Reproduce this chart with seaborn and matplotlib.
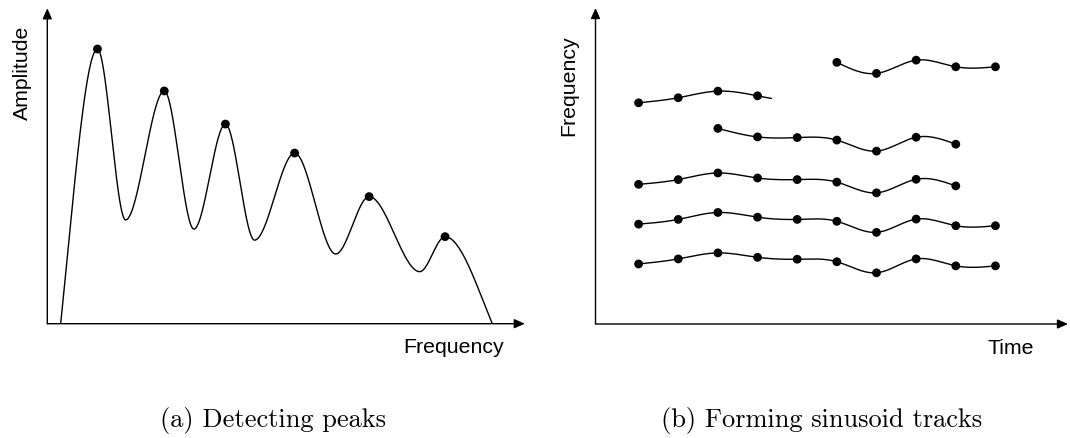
import numpy as np
import matplotlib
matplotlib.use("Agg")
import matplotlib.pyplot as plt
import seaborn as sns

# ---- (a) spectrum: the curve passes through alternating peaks and troughs ----
spec_freq = [0.28, 1.05, 1.64, 2.45, 3.07, 3.73, 4.34, 5.18, 6.04, 6.74, 7.80, 8.33, 9.32]
spec_amp = [0.00, 8.71, 3.29, 7.38, 3.00, 6.33, 2.65, 5.41, 2.21, 4.03, 1.65, 2.76, 0.00]
peak_idx = [1, 3, 5, 7, 9, 11]

# ---- (b) sinusoid tracks: frame index -> frequency ----
track_a_t = [1, 2, 3, 4, 5, 6, 7, 8, 9, 10]
track_a_f = [1.90, 2.06, 2.25, 2.11, 2.05, 1.97, 1.62, 2.06, 1.84, 1.84]
track_b_t = [1, 2, 3, 4, 5, 6, 7, 8, 9, 10]
track_b_f = [3.16, 3.31, 3.53, 3.38, 3.31, 3.25, 2.90, 3.32, 3.11, 3.11]
track_c_t = [1, 2, 3, 4, 5, 6, 7, 8, 9]
track_c_f = [4.42, 4.57, 4.78, 4.62, 4.57, 4.49, 4.15, 4.58, 4.37]
track_d_t = [3, 4, 5, 6, 7, 8, 9]
track_d_f = [6.19, 5.92, 5.90, 5.82, 5.47, 5.91, 5.69]
track_e_t = [1, 2, 3, 4]
track_e_f = [7.00, 7.16, 7.37, 7.22]
track_e_tail = 4.35          # unmatched track fades out after its last frame
track_f_t = [6, 7, 8, 9, 10]
track_f_f = [8.28, 7.93, 8.35, 8.14, 8.14]

W, H, DPI = 1070, 439, 100


def hermite_curve(xk, yk, end_slope=1.3, n=60):
    """Smooth curve through extrema: flat tangents at every knot
    except where the curve meets the axis."""
    xs_all, ys_all = [], []
    last = len(xk) - 2
    for i in range(len(xk) - 1):
        x0, x1, y0, y1 = xk[i], xk[i + 1], yk[i], yk[i + 1]
        m0 = end_slope * (y1 - y0) if i == 0 else 0.0
        m1 = end_slope * (y1 - y0) if i == last else 0.0
        u = np.linspace(0, 1, n)
        h00 = 2 * u**3 - 3 * u**2 + 1
        h10 = u**3 - 2 * u**2 + u
        h01 = -2 * u**3 + 3 * u**2
        h11 = u**3 - u**2
        xs_all.append(x0 + (x1 - x0) * u)
        ys_all.append(h00 * y0 + h10 * m0 + h01 * y1 + h11 * m1)
    return np.concatenate(xs_all), np.concatenate(ys_all)


def natural_spline(x, y, xs):
    x = np.asarray(x, float)
    y = np.asarray(y, float)
    n = len(x)
    h = np.diff(x)
    A = np.zeros((n, n))
    r = np.zeros(n)
    A[0, 0] = A[-1, -1] = 1.0
    for i in range(1, n - 1):
        A[i, i - 1] = h[i - 1]
        A[i, i] = 2 * (h[i - 1] + h[i])
        A[i, i + 1] = h[i]
        r[i] = 6 * ((y[i + 1] - y[i]) / h[i] - (y[i] - y[i - 1]) / h[i - 1])
    M = np.linalg.solve(A, r)
    idx = np.clip(np.searchsorted(x, xs) - 1, 0, n - 2)
    x0, x1 = x[idx], x[idx + 1]
    hh = x1 - x0
    a = (x1 - xs) / hh
    b = (xs - x0) / hh
    return a * y[idx] + b * y[idx + 1] + ((a**3 - a) * M[idx] + (b**3 - b) * M[idx + 1]) * hh**2 / 6


def draw_axes_arrows(ax):
    style = "-|>,head_length=0.45,head_width=0.2"
    kw = dict(arrowstyle=style, lw=1.0, color="black", mutation_scale=14,
              shrinkA=0, shrinkB=0)
    ax.annotate("", xy=(1, 0), xytext=(0, 0), xycoords="axes fraction",
                textcoords="axes fraction", arrowprops=kw)
    ax.annotate("", xy=(0, 1), xytext=(0, 0), xycoords="axes fraction",
                textcoords="axes fraction", arrowprops=kw)


sns.set_style("white")
plt.rcParams["font.family"] = ["Liberation Sans", "DejaVu Sans"]

fig = plt.figure(figsize=(W / DPI, H / DPI), dpi=DPI)


def px_axes(x0, y0, x1, y1):
    # x0,y0 = origin (pixels from top-left); x1 = x-arrow tip; y1 = y-arrow tip
    return fig.add_axes([x0 / W, (H - y0) / H, (x1 - x0) / W, (y0 - y1) / H])


# ---------------- panel (a) ----------------
ax1 = px_axes(47.3, 324.7, 524.8, 9.3)
ax1.set_xlim(0, 10)
ax1.set_ylim(0, 10)
ax1.set_axis_off()
draw_axes_arrows(ax1)

cx, cy = hermite_curve(spec_freq, spec_amp)
sns.lineplot(x=cx, y=cy, ax=ax1, color="black", lw=1.0, estimator=None, sort=False)
sns.scatterplot(x=[spec_freq[i] for i in peak_idx], y=[spec_amp[i] for i in peak_idx],
                ax=ax1, s=40, color="black", edgecolor="none", zorder=3)

# ---------------- panel (b) ----------------
ax2 = px_axes(595.5, 325.0, 1068.0, 9.0)
ax2.set_xlim(-0.087, 11.83)
ax2.set_ylim(0, 10)
ax2.set_axis_off()
draw_axes_arrows(ax2)

tracks = [
    (track_a_t, track_a_f, None),
    (track_b_t, track_b_f, None),
    (track_c_t, track_c_f, None),
    (track_d_t, track_d_f, None),
    (track_e_t, track_e_f, track_e_tail),
    (track_f_t, track_f_f, None),
]
for t, f, tail in tracks:
    t_end = tail if tail is not None else t[-1]
    ts = np.linspace(t[0], t_end, 200)
    fs = natural_spline(t, f, ts)
    sns.lineplot(x=ts, y=fs, ax=ax2, color="black", lw=1.0, estimator=None, sort=False)
    sns.scatterplot(x=t, y=f, ax=ax2, s=40, color="black", edgecolor="none", zorder=3)

# ---------------- labels ----------------
lab = dict(fontsize=15.3, color="black")
fig.text(22 / W, 1 - 26 / H, "Amplitude", rotation=90, ha="center", va="top", **lab)
fig.text(504.3 / W, 1 - 353.3 / H, "Frequency", ha="right", va="baseline", **lab)
fig.text(568.5 / W, 1 - 35 / H, "Frequency", rotation=90, ha="center", va="top", **lab)
fig.text(1034 / W, 1 - 354.3 / H, "Time", ha="right", va="baseline", **lab)

cap = dict(fontsize=19, family="cmr10", color="black", ha="center", va="baseline")
fig.text(273 / W, 1 - 427 / H, "(a) Detecting peaks", **cap)
fig.text(821.5 / W, 1 - 427 / H, "(b) Forming sinusoid tracks", **cap)

fig.savefig("out.png", dpi=DPI, facecolor="white")
